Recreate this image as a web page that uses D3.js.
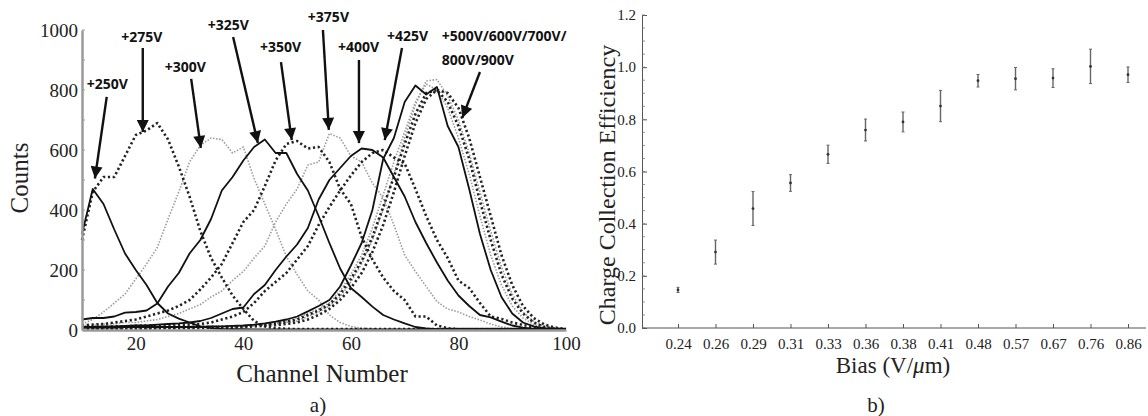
<!DOCTYPE html>
<html>
<head>
<meta charset="utf-8">
<script src="https://cdn.jsdelivr.net/npm/d3@7"></script>
<style>
body { margin: 0; background: #fff; }
svg { display: block; }
.serif { font-family: 'Liberation Serif', 'Times New Roman', serif; fill: #222; }
.note { font-family: 'Open Sans', 'DejaVu Sans', sans-serif; font-weight: 700; font-size: 14px; fill: #111; }
</style>
</head>
<body>
<div id="chart"></div>
<script>
const width = 1148, height = 416;

// ---- panel a: pulse height spectra, counts at channels 10,12,...,100
const channels = d3.range(10, 101, 2);

const counts250 = [320,470,420,335,255,200,150,90,55,38,25,12,6,4,3,3,
  2,2,2,2,2,2,2,2,2,2,2,2,2,2,2,2,2,2,2,2,2,2,2,2,2,2,2,2,2,2];
const counts275 = [300,460,510,510,580,650,665,690,635,545,445,330,240,175,115,70,30,12,6,4,
  3,3,3,3,3,3,3,3,3,3,3,3,3,3,3,3,3,3,3,3,3,3,3,3,3,3];
const counts300 = [20,35,60,90,120,170,220,275,370,460,560,615,640,635,590,610,505,420,335,245,
  185,130,100,50,25,12,6,4,3,3,3,3,3,3,3,3,3,3,3,3,3,3,3,3,3,3];
const counts325 = [35,40,40,45,58,60,65,88,145,190,255,300,370,465,510,565,610,635,590,590,
  520,465,380,290,205,140,110,78,50,35,22,10,5,3,3,3,3,3,3,3,3,3,3,3,3,3];
const counts350 = [15,18,20,25,30,35,45,55,65,80,100,135,175,220,290,360,400,480,565,620,
  630,605,610,560,470,420,310,235,175,130,100,45,45,15,6,3,3,3,3,3,3,3,3,3,3,3];
const counts375 = [15,15,20,20,25,25,30,35,45,55,70,85,110,130,165,195,240,280,360,420,
  470,550,560,655,640,580,560,490,440,350,250,195,145,95,70,60,45,33,20,10,5,3,3,3,3,3];
const counts400 = [10,10,12,12,14,15,15,18,20,22,25,30,40,55,70,75,120,150,200,245,
  285,340,435,500,540,580,605,600,575,510,445,360,290,225,165,115,80,50,42,28,15,8,4,3,2,2];
const counts425 = [10,10,10,12,12,14,15,15,16,18,18,20,25,35,45,60,90,130,160,190,
  235,280,350,410,465,515,560,590,600,575,555,470,380,300,240,165,140,90,45,37,25,17,8,4,3,2];
const counts500 = [8,8,8,8,10,10,10,10,10,10,12,12,12,12,12,12,15,20,25,30,
  40,55,70,90,130,185,250,340,450,560,660,760,820,800,740,640,520,380,250,150,80,40,18,8,3,1];
const counts600 = [8,8,8,8,10,10,10,10,10,10,10,10,12,12,14,15,18,22,28,35,
  45,62,80,100,145,215,290,400,570,640,760,815,785,810,680,610,470,320,200,110,55,25,12,5,2,1];
const counts700 = [5,5,5,6,6,6,6,8,8,8,8,10,10,10,12,12,15,18,22,28,
  35,50,65,85,120,170,230,310,410,510,620,720,790,800,760,680,570,430,300,185,105,55,25,10,4,2];
const counts800 = [5,5,5,5,6,6,6,6,8,8,8,8,10,10,10,12,14,16,20,25,
  30,45,60,80,110,160,220,300,400,520,640,750,830,835,780,700,590,460,330,210,120,60,28,12,5,2];
const counts900 = [4,4,4,4,5,5,5,5,6,6,6,6,8,8,8,10,12,14,16,20,
  25,35,50,70,100,140,190,260,350,460,580,690,770,800,790,740,640,510,380,250,150,80,40,18,8,3];

const countTicks = [0, 200, 400, 600, 800, 1000];
const channelTicks = [20, 40, 60, 80, 100];

// ---- panel b: charge collection efficiency
const biasLabels = ['0.24','0.26','0.29','0.31','0.33','0.36','0.38','0.41','0.48','0.57','0.67','0.76','0.86'];
const efficiency = [0.146,0.291,0.458,0.556,0.666,0.759,0.790,0.851,0.948,0.956,0.958,1.003,0.971];
const efficiencyErr = [0.010,0.046,0.065,0.032,0.035,0.042,0.038,0.060,0.024,0.043,0.036,0.066,0.030];
const effTicks = [0, 0.2, 0.4, 0.6, 0.8, 1.0, 1.2];

const styles = {
  solid: { stroke: '#111', width: 1.8, dash: null },
  dashed: { stroke: '#222', width: 2.6, dash: '2.2,2.6' },
  dotted: { stroke: '#9a9a9a', width: 1.6, dash: '1.5,1.6' }
};

const series = [
  { name: '+250V', values: counts250, style: 'solid' },
  { name: '+275V', values: counts275, style: 'dashed' },
  { name: '+300V', values: counts300, style: 'dotted' },
  { name: '+325V', values: counts325, style: 'solid' },
  { name: '+350V', values: counts350, style: 'dashed' },
  { name: '+375V', values: counts375, style: 'dotted' },
  { name: '+400V', values: counts400, style: 'solid' },
  { name: '+425V', values: counts425, style: 'dashed' },
  { name: '+500V', values: counts500, style: 'dotted' },
  { name: '+600V', values: counts600, style: 'solid' },
  { name: '+700V', values: counts700, style: 'dashed' },
  { name: '+800V', values: counts800, style: 'dotted' },
  { name: '+900V', values: counts900, style: 'dashed' }
];

// annotations in data units: label anchor, arrow tail, arrow tip
const notes = [
  { lines: ['+250V'], at: [10.9, 803], from: [14.6, 777], to: [12.4, 505] },
  { lines: ['+275V'], at: [17.3, 960], from: [21.3, 940], to: [21.3, 660] },
  { lines: ['+300V'], at: [25.4, 860], from: [30.3, 837], to: [32.1, 607] },
  { lines: ['+325V'], at: [33.4, 1000], from: [38.1, 977], to: [42.7, 623] },
  { lines: ['+350V'], at: [43.1, 927], from: [47.0, 893], to: [49.0, 633] },
  { lines: ['+375V'], at: [52.0, 1027], from: [54.8, 1000], to: [55.9, 667] },
  { lines: ['+400V'], at: [57.6, 927], from: [61.5, 900], to: [61.5, 623] },
  { lines: ['+425V'], at: [66.7, 963], from: [69.5, 940], to: [66.3, 633] },
  { lines: ['+500V/600V/700V/', '800V/900V'], at: [76.9, 963], from: [84.0, 860], to: [80.7, 707] }
];

const svg = d3.select('#chart').append('svg')
  .attr('width', width)
  .attr('height', height);

svg.append('defs').append('marker')
  .attr('id', 'head')
  .attr('viewBox', '0 0 10 10')
  .attr('refX', 10).attr('refY', 5)
  .attr('markerWidth', 5.6).attr('markerHeight', 5)
  .attr('markerUnits', 'strokeWidth')
  .attr('orient', 'auto')
  .append('path')
  .attr('d', 'M0,0L10,5L0,10Z')
  .attr('fill', '#111');

// ================= panel a =================
const xA = d3.scaleLinear().domain([10, 100]).range([82, 566]);
const yA = d3.scaleLinear().domain([0, 1000]).range([330, 30]);

const gA = svg.append('g');

const lineA = d3.line()
  .x((d, i) => xA(channels[i]))
  .y(d => yA(d));

const drawOrder = ['dotted', 'dashed', 'solid'];
drawOrder.forEach(kind => {
  gA.selectAll(null)
    .data(series.filter(s => s.style === kind))
    .enter()
    .append('path')
    .attr('d', s => lineA(s.values))
    .attr('fill', 'none')
    .attr('stroke', styles[kind].stroke)
    .attr('stroke-width', styles[kind].width)
    .attr('stroke-dasharray', styles[kind].dash)
    .attr('stroke-linejoin', 'round');
});

const axA_y = gA.append('g')
  .attr('transform', `translate(${xA(10)},0)`)
  .call(d3.axisLeft(yA).tickValues(countTicks).tickFormat(d3.format('d')).tickSize(0).tickPadding(4));
const axA_x = gA.append('g')
  .attr('transform', `translate(0,${yA(0)})`)
  .call(d3.axisBottom(xA).tickValues(channelTicks).tickSize(0).tickPadding(7));

[axA_y, axA_x].forEach(ax => {
  ax.select('.domain').attr('stroke', '#9a9a9a').attr('stroke-width', 2.5);
  ax.selectAll('text').attr('class', 'serif').style('font-size', '19px').attr('fill', '#222');
});
axA_y.selectAll('text').attr('dy', '0.36em');

// minor ticks on the count axis
gA.append('g').selectAll('line')
  .data(d3.range(0, 1001, 100))
  .enter().append('line')
  .attr('x1', xA(10)).attr('x2', xA(10) + 3)
  .attr('y1', d => yA(d)).attr('y2', d => yA(d))
  .attr('stroke', '#9a9a9a').attr('stroke-width', 1);

// annotations
const noteG = gA.append('g');
notes.forEach(n => {
  noteG.append('line')
    .attr('x1', xA(n.from[0])).attr('y1', yA(n.from[1]))
    .attr('x2', xA(n.to[0])).attr('y2', yA(n.to[1]))
    .attr('stroke', '#111').attr('stroke-width', 2.4)
    .attr('marker-end', 'url(#head)');
  const t = noteG.append('text')
    .attr('class', 'note')
    .attr('x', xA(n.at[0]))
    .attr('y', yA(n.at[1]));
  n.lines.forEach((l, i) => {
    t.append('tspan').attr('x', xA(n.at[0])).attr('dy', i === 0 ? 0 : 24).text(l);
  });
});

svg.append('text').attr('class', 'serif')
  .attr('transform', 'translate(28,178) rotate(-90)')
  .attr('text-anchor', 'middle')
  .style('font-size', '25px')
  .text('Counts');

svg.append('text').attr('class', 'serif')
  .attr('x', 322).attr('y', 382)
  .attr('text-anchor', 'middle')
  .style('font-size', '25px')
  .text('Channel Number');

svg.append('text').attr('class', 'serif')
  .attr('x', 318).attr('y', 412)
  .attr('text-anchor', 'middle')
  .style('font-size', '21px')
  .text('a)');

// ================= panel b =================
const xB = d3.scalePoint().domain(biasLabels).range([678, 1128]);
const yB = d3.scaleLinear().domain([0, 1.2]).range([328, 15]);
const gB = svg.append('g');

const axB_y = gB.append('g')
  .attr('transform', 'translate(642,0)')
  .call(d3.axisLeft(yB).tickValues(effTicks).tickFormat(d3.format('.1f')).tickSize(-5).tickSizeOuter(0).tickPadding(6));
axB_y.selectAll('text').attr('class', 'serif').style('font-size', '15px').attr('fill', '#222');
axB_y.select('.domain').attr('stroke', '#555');
axB_y.selectAll('.tick line').attr('stroke', '#555');

gB.append('g').selectAll('line')
  .data(d3.range(0, 1.2001, 0.05))
  .enter().append('line')
  .attr('x1', 642).attr('x2', 645)
  .attr('y1', d => yB(d)).attr('y2', d => yB(d))
  .attr('stroke', '#777').attr('stroke-width', 0.8);

const axB_x = gB.append('g')
  .attr('transform', `translate(0,${yB(0)})`)
  .call(d3.axisBottom(xB).tickSize(-4).tickSizeOuter(0).tickPadding(10));
axB_x.select('.domain').remove();
axB_x.selectAll('.tick line').attr('stroke', '#555');
axB_x.selectAll('text').attr('class', 'serif').style('font-size', '15px').attr('fill', '#222');
gB.append('line')
  .attr('x1', 642).attr('x2', 1146)
  .attr('y1', yB(0)).attr('y2', yB(0))
  .attr('stroke', '#555').attr('stroke-width', 1.2);

const bars = gB.selectAll('g.err')
  .data(biasLabels)
  .enter().append('g')
  .attr('class', 'err');
bars.append('line')
  .attr('x1', d => xB(d)).attr('x2', d => xB(d))
  .attr('y1', (d, i) => yB(efficiency[i] - efficiencyErr[i]))
  .attr('y2', (d, i) => yB(efficiency[i] + efficiencyErr[i]))
  .attr('stroke', '#666').attr('stroke-width', 1.4);
[-1, 1].forEach(sign => {
  bars.append('line')
    .attr('x1', d => xB(d) - 1.5).attr('x2', d => xB(d) + 1.5)
    .attr('y1', (d, i) => yB(efficiency[i] + sign * efficiencyErr[i]))
    .attr('y2', (d, i) => yB(efficiency[i] + sign * efficiencyErr[i]))
    .attr('stroke', '#666').attr('stroke-width', 1);
});
bars.append('circle')
  .attr('cx', d => xB(d))
  .attr('cy', (d, i) => yB(efficiency[i]))
  .attr('r', 1.4)
  .attr('fill', '#333');

svg.append('text').attr('class', 'serif')
  .attr('transform', 'translate(615,185) rotate(-90)')
  .attr('text-anchor', 'middle')
  .style('font-size', '24px')
  .text('Charge Collection Efficiency');

const biasTitle = svg.append('text').attr('class', 'serif')
  .attr('x', 893).attr('y', 373)
  .attr('text-anchor', 'middle')
  .style('font-size', '23px');
biasTitle.append('tspan').text('Bias (V/');
biasTitle.append('tspan').style('font-style', 'italic').text('μ');
biasTitle.append('tspan').text('m)');

svg.append('text').attr('class', 'serif')
  .attr('x', 876).attr('y', 412)
  .attr('text-anchor', 'middle')
  .style('font-size', '21px')
  .text('b)');
</script>
</body>
</html>
